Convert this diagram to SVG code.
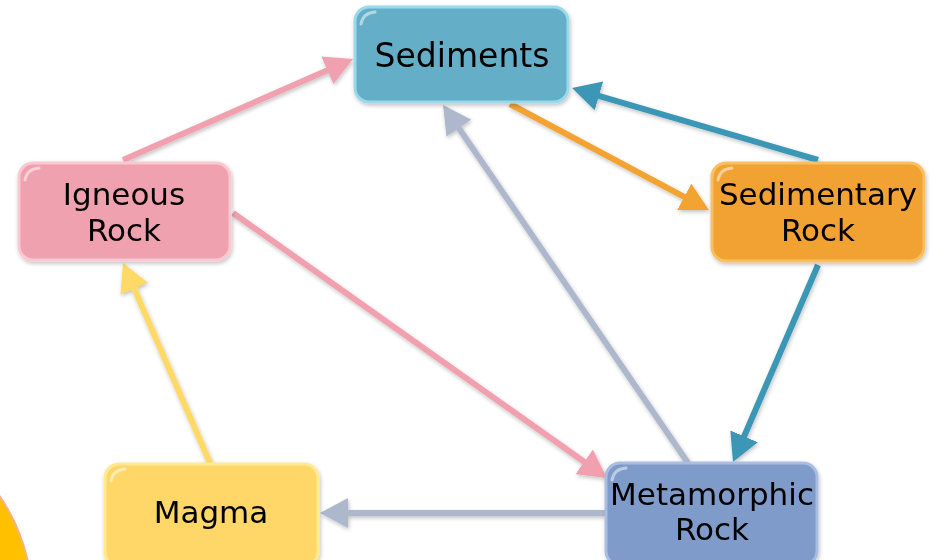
<svg xmlns="http://www.w3.org/2000/svg" width="947" height="560" viewBox="0 0 947 560">
<style>
.lbl{font-family:"DejaVu Sans","Verdana",sans-serif;font-size:31px;fill:#000;text-anchor:middle}
.c{fill:none;stroke-width:6;stroke-linecap:butt}
.hl{fill:none;stroke:#fff;stroke-opacity:0.5;stroke-width:3;stroke-linecap:round}
</style>
<defs>
<filter id="sh" x="-10%" y="-10%" width="130%" height="130%"><feGaussianBlur in="SourceAlpha" stdDeviation="2"/><feOffset dx="1" dy="2"/><feComponentTransfer><feFuncA type="linear" slope="0.25"/></feComponentTransfer><feMerge><feMergeNode/><feMergeNode in="SourceGraphic"/></feMerge></filter>
<marker id="mPink" markerUnits="userSpaceOnUse" markerWidth="30" markerHeight="30" refX="2" refY="15" orient="auto"><path d="M0,0 L28,15 L0,30 z" fill="#F0A0AE"/></marker>
<marker id="mOrange" markerUnits="userSpaceOnUse" markerWidth="30" markerHeight="30" refX="2" refY="15" orient="auto"><path d="M0,0 L28,15 L0,30 z" fill="#F2A332"/></marker>
<marker id="mTeal" markerUnits="userSpaceOnUse" markerWidth="30" markerHeight="30" refX="2" refY="15" orient="auto"><path d="M0,0 L28,15 L0,30 z" fill="#3A97B5"/></marker>
<marker id="mGrey" markerUnits="userSpaceOnUse" markerWidth="30" markerHeight="30" refX="2" refY="15" orient="auto"><path d="M0,0 L28,15 L0,30 z" fill="#ADB8CC"/></marker>
<marker id="mYellow" markerUnits="userSpaceOnUse" markerWidth="30" markerHeight="30" refX="2" refY="15" orient="auto"><path d="M0,0 L28,15 L0,30 z" fill="#FFD966"/></marker>
</defs>
<rect width="947" height="560" fill="#fff"/>
<circle cx="-150" cy="600" r="182" fill="#FFC000" stroke="#F4B183" stroke-width="2"/>
<g id="connectors" filter="url(#sh)">
<line class="c" x1="123" y1="160" x2="329.2" y2="69.5" stroke="#F0A0AE" marker-end="url(#mPink)"/>
<line class="c" x1="510" y1="104" x2="686" y2="197.8" stroke="#F2A332" marker-end="url(#mOrange)"/>
<line class="c" x1="818" y1="160" x2="597" y2="95.3" stroke="#3A97B5" marker-end="url(#mTeal)"/>
<line class="c" x1="818" y1="265" x2="743.3" y2="438.2" stroke="#3A97B5" marker-end="url(#mTeal)"/>
<line class="c" x1="688" y1="463" x2="457.7" y2="126.5" stroke="#ADB8CC" marker-end="url(#mGrey)"/>
<line class="c" x1="233" y1="213" x2="585.8" y2="463" stroke="#F0A0AE" marker-end="url(#mPink)"/>
<line class="c" x1="605" y1="513" x2="346" y2="513" stroke="#ADB8CC" marker-end="url(#mGrey)"/>
<line class="c" x1="210" y1="463" x2="133.4" y2="286.8" stroke="#FFD966" marker-end="url(#mYellow)"/>
</g>
<g id="sediments" filter="url(#sh)">
<rect x="355" y="7" width="213" height="95" rx="14" fill="#65AEC8" stroke="#9AD9EC" stroke-width="3"/>
<path class="hl" d="M361,24 Q363,13 375,12"/>
<text class="lbl" x="462" y="67" style="font-size:33px">Sediments</text>
</g>
<g id="igneous" filter="url(#sh)">
<rect x="19" y="163" width="211" height="97" rx="14" fill="#F0A1AF" stroke="#FAC8D0" stroke-width="3"/>
<path class="hl" d="M25,180 Q27,169 39,168"/>
<text class="lbl" x="124" y="205">Igneous</text>
<text class="lbl" x="124" y="241">Rock</text>
</g>
<g id="sedimentary" filter="url(#sh)">
<rect x="712" y="163" width="212" height="98" rx="14" fill="#F2A232" stroke="#F8C060" stroke-width="3"/>
<path class="hl" d="M718,180 Q720,169 732,168"/>
<text class="lbl" x="818" y="205">Sedimentary</text>
<text class="lbl" x="818" y="241">Rock</text>
</g>
<g id="magma" filter="url(#sh)">
<rect x="105" y="464" width="213" height="102" rx="14" fill="#FED768" stroke="#FFEA90" stroke-width="3"/>
<path class="hl" d="M111,481 Q113,470 125,469"/>
<text class="lbl" x="211" y="523">Magma</text>
</g>
<g id="metamorphic" filter="url(#sh)">
<rect x="606" y="463" width="211" height="102" rx="14" fill="#7F9BC9" stroke="#A9BDE0" stroke-width="3"/>
<path class="hl" d="M612,480 Q614,469 626,468"/>
<text class="lbl" x="712" y="505">Metamorphic</text>
<text class="lbl" x="712" y="540">Rock</text>
</g>
</svg>
